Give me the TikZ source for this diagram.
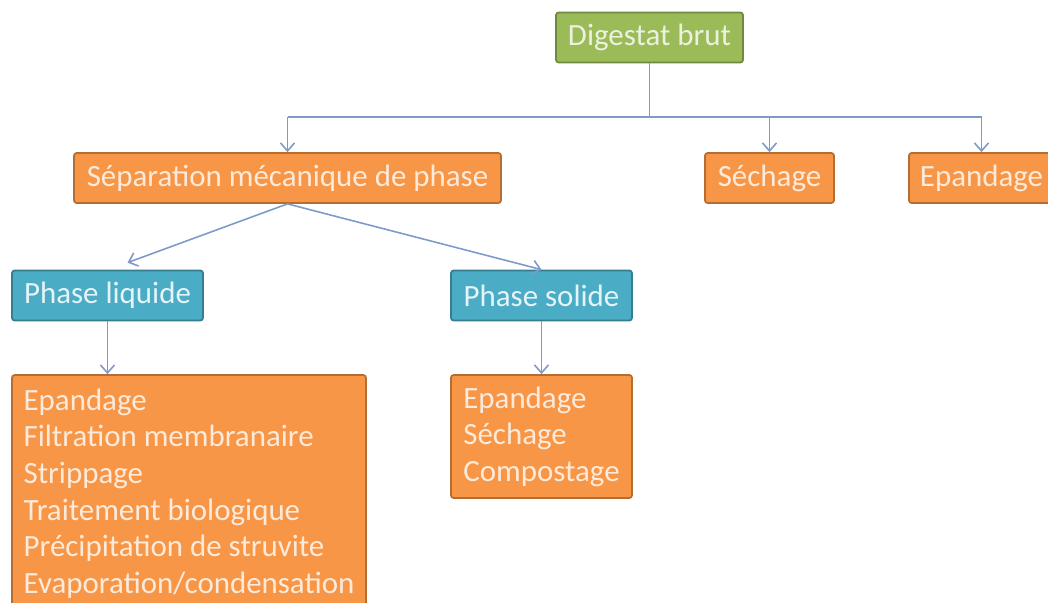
\documentclass[tikz,border=0pt]{standalone}
\usepackage{fontspec}
\setmainfont{Carlito}
\usetikzlibrary{arrows.meta,positioning,calc}
\definecolor{vertC}{HTML}{9BBB59}
\definecolor{vertB}{HTML}{71893F}
\definecolor{vertT}{HTML}{EBF1DE}
\definecolor{orangeC}{HTML}{F79646}
\definecolor{orangeB}{HTML}{B66D31}
\definecolor{orangeT}{HTML}{FDEADA}
\definecolor{bleuC}{HTML}{4BACC6}
\definecolor{bleuB}{HTML}{357D91}
\definecolor{bleuT}{HTML}{E6F4F8}
\definecolor{lienC}{HTML}{7F9AC8}
\tikzset{
  etape/.style={rectangle, rounded corners=1.5pt, draw=#1B, line width=1pt, fill=#1C, text=#1T,
                font=\fontsize{17.6}{20.8}\selectfont, inner sep=0pt, minimum height=1cm},
  liste/.style={etape=#1, align=left},
  fleche/.style={-{Straight Barb[length=1.6mm,width=2.8mm]}, line width=0.9pt, draw=lienC},
  lien/.style={line width=0.9pt, draw=lienC},
}

\begin{document}
\begin{tikzpicture}[x=0.02cm, y=-0.02cm]
    \useasboundingbox (0,0) rectangle (1048,602);
    \node[etape=vert, minimum width=3.74cm] (dig) at (649.5,37.5) {Digestat brut};
    \node[etape=orange, minimum width=8.54cm] (sep) at (287.5,178) {Séparation mécanique de phase};
    \node[etape=orange, minimum width=2.58cm] (sech) at (769.5,178) {Séchage};
    \node[etape=orange, minimum width=2.9cm] (epa) at (981.5,178) {Epandage};
    \node[etape=bleu, minimum width=3.82cm] (liq) at (107.5,295.5) {Phase liquide};
    \node[etape=bleu, minimum width=3.62cm] (sol) at (541.5,295.5) {Phase solide};
    \node[liste=orange, minimum width=7.08cm, minimum height=4.74cm] (liqL) at (189,493.5)
      {Epandage\\Filtration membranaire\\Strippage\\Traitement biologique\\
       Précipitation de struvite\\Evaporation/condensation};
    \node[liste=orange, minimum width=3.62cm, minimum height=2.46cm] (solL) at (541.5,436.5)
      {Epandage\\Séchage\\Compostage};
    % liaisons
    \coordinate (bus) at (652,117);
    \draw[lien] (dig.south) -- (dig.south |- bus);
    \draw[lien] (sep.north |- bus) -- (epa.north |- bus);
    \draw[fleche] (sep.north |- bus) -- (sep.north);
    \draw[fleche] (sech.north |- bus) -- (sech.north);
    \draw[fleche] (epa.north |- bus) -- (epa.north);
    \draw[fleche] (sep.south) -- ($(liq.north)+(20,-7)$);
    \draw[fleche] (sep.south) -- (sol.north);
    \draw[fleche] (liq.south) -- (liq.south |- liqL.north);
    \draw[fleche] (sol.south) -- (solL.north);
\end{tikzpicture}
\end{document}
